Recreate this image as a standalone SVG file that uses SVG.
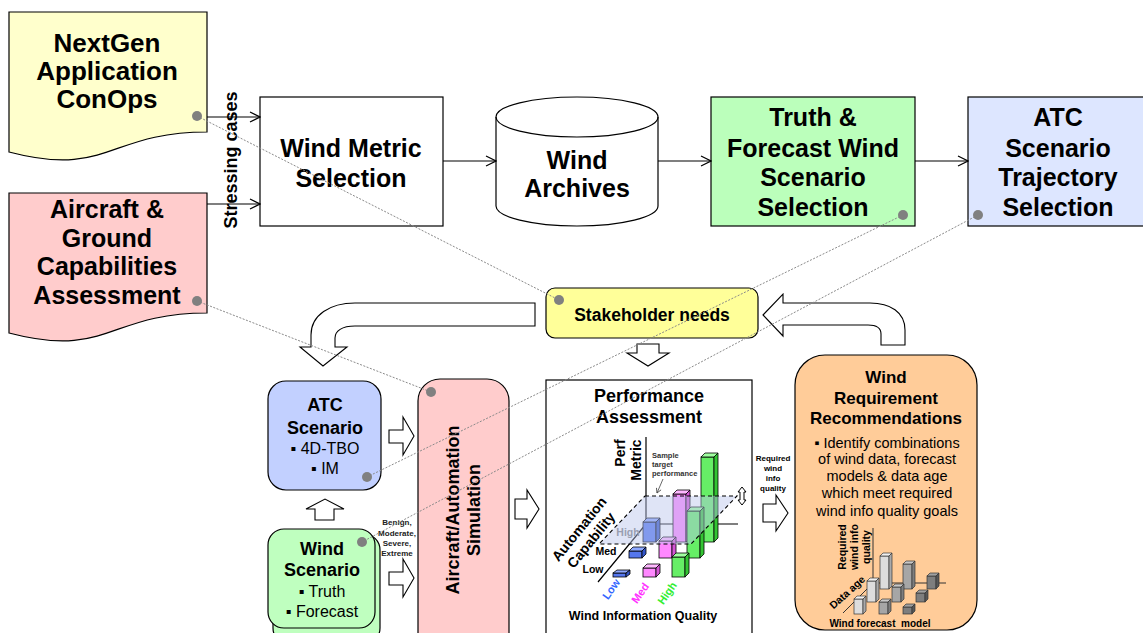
<svg xmlns="http://www.w3.org/2000/svg" width="1143" height="633" viewBox="0 0 1143 633">
<defs>
<style>
.bx{stroke:#000;stroke-width:1.2}
.ln{stroke:#000;stroke-width:1.2;fill:none}
.blk{fill:#fff;stroke:#000;stroke-width:1.1}
.dot{fill:#808080}
.dl{stroke:#8a8a8a;stroke-width:1;stroke-dasharray:2 1.5;fill:none}
text{font-family:"Liberation Sans",Arial,sans-serif;fill:#000}
.h24{font-size:25px;font-weight:bold;text-anchor:middle;dominant-baseline:central}
.h26{font-size:26px;font-weight:bold;text-anchor:middle;dominant-baseline:central}
.h18{font-size:18px;font-weight:bold;text-anchor:middle;dominant-baseline:central}
.h17{font-size:17px;font-weight:bold;text-anchor:middle;dominant-baseline:central}
.n16{font-size:16px;text-anchor:middle;dominant-baseline:central}
.n14{font-size:14.5px;text-anchor:middle;dominant-baseline:central}
.s8{font-size:8px;font-weight:bold;text-anchor:middle;dominant-baseline:central;fill:#222}
.s10{font-size:10.5px;font-weight:bold;text-anchor:middle;dominant-baseline:central}
.s14{font-size:14px;font-weight:bold;text-anchor:middle;dominant-baseline:central}
.bf{fill:#5577EE;stroke:#000;stroke-width:.8}
.bt{fill:#8EA8FF;stroke:#000;stroke-width:.8}
.bs{fill:#3355C8;stroke:#000;stroke-width:.8}
.pf{fill:#FF88FF;stroke:#000;stroke-width:.8}
.pt{fill:#FFB8FF;stroke:#000;stroke-width:.8}
.ps{fill:#D455D4;stroke:#000;stroke-width:.8}
.gf{fill:#66EE66;stroke:#000;stroke-width:.8}
.gt{fill:#A0FFA0;stroke:#000;stroke-width:.8}
.gs{fill:#33C433;stroke:#000;stroke-width:.8}
.lf{fill:#DDDDDD;stroke:#333;stroke-width:.7}
.lt{fill:#F0F0F0;stroke:#333;stroke-width:.7}
.ls{fill:#AAAAAA;stroke:#333;stroke-width:.7}
.mf{fill:#A6A6A6;stroke:#333;stroke-width:.7}
.mt{fill:#C8C8C8;stroke:#333;stroke-width:.7}
.ms{fill:#7E7E7E;stroke:#333;stroke-width:.7}
.kf{fill:#7E7E7E;stroke:#333;stroke-width:.7}
.kt{fill:#A0A0A0;stroke:#333;stroke-width:.7}
.ks{fill:#575757;stroke:#333;stroke-width:.7}
</style>
<marker id="vhead" markerWidth="12" markerHeight="12" refX="11" refY="6" orient="auto" markerUnits="userSpaceOnUse">
<path d="M1,1 L11,6 L1,11" fill="none" stroke="#000" stroke-width="1.2"/>
</marker>
<marker id="tiny" markerWidth="6" markerHeight="6" refX="5" refY="3" orient="auto" markerUnits="userSpaceOnUse">
<path d="M0.5,0.5 L5,3 L0.5,5.5" fill="none" stroke="#444" stroke-width="0.8"/>
</marker>
</defs>

<rect width="1143" height="633" fill="#fff"/>

<!-- input documents -->
<g id="nextgen">
<path class="bx" fill="#FFFFCC" d="M9,12 H207 V132 C108,132 108,178 9,152 Z"/>
<text class="h26" x="107" y="43">NextGen</text>
<text class="h26" x="107" y="71">Application</text>
<text class="h26" x="107" y="99">ConOps</text>
</g>
<g id="capabilities">
<path class="bx" fill="#FFCCCC" d="M9,193 H207 V313 C108,313 108,359 9,333 Z"/>
<text class="h24" x="107" y="209">Aircraft &amp;</text>
<text class="h24" x="107" y="238">Ground</text>
<text class="h24" x="107" y="266">Capabilities</text>
<text class="h24" x="107" y="295">Assessment</text>
</g>
<g id="stressing-label">
<text x="231" y="160" transform="rotate(-90 231 160)" style="font-size:18px;font-weight:bold;text-anchor:middle;dominant-baseline:central">Stressing cases</text>
</g>

<!-- top process chain -->
<g id="wind-metric">
<rect class="bx" fill="#fff" x="260" y="97" width="183" height="129"/>
<text class="h24" x="351" y="148">Wind Metric</text>
<text class="h24" x="351" y="178">Selection</text>
</g>
<g id="wind-archives">
<path class="bx" fill="#fff" d="M496,117 A81,20 0 0 1 658,117 V206 A81,20 0 0 1 496,206 Z"/>
<path class="ln" d="M496,117 A81,20 0 0 0 658,117"/>
<text class="h24" x="577" y="160">Wind</text>
<text class="h24" x="577" y="188">Archives</text>
</g>
<g id="truth-forecast">
<rect class="bx" fill="#BBFFBB" x="711" y="97" width="204" height="129"/>
<text class="h24" x="813" y="117">Truth &amp;</text>
<text class="h24" x="813" y="148">Forecast Wind</text>
<text class="h24" x="813" y="177">Scenario</text>
<text class="h24" x="813" y="207">Selection</text>
</g>
<g id="atc-trajectory">
<rect class="bx" fill="#DDE6FF" x="968" y="97" width="180" height="129"/>
<text class="h24" x="1058" y="117">ATC</text>
<text class="h24" x="1058" y="148">Scenario</text>
<text class="h24" x="1058" y="177">Trajectory</text>
<text class="h24" x="1058" y="207">Selection</text>
</g>

<g id="stakeholder">
<rect class="bx" fill="#FFFF99" x="546" y="288" width="212" height="50" rx="9"/>
<text x="652" y="315" style="font-size:17.5px;font-weight:bold;text-anchor:middle;dominant-baseline:central">Stakeholder needs</text>
</g>

<!-- lower loop -->
<g id="atc-scenario">
<rect class="bx" fill="#C2D0FF" x="268" y="381" width="113" height="109" rx="18"/>
<text class="h18" x="325" y="405">ATC</text>
<text class="h18" x="325" y="428">Scenario</text>
<text class="n16" x="325" y="448">▪ 4D-TBO</text>
<text class="n16" x="325" y="468">▪ IM</text>
</g>
<g id="wind-scenario">
<rect class="bx" fill="#BFFFBF" x="273" y="534" width="107" height="110" rx="16"/>
<rect class="bx" fill="#BFFFBF" x="268" y="529" width="107" height="99" rx="16"/>
<text class="h18" x="322" y="549">Wind</text>
<text class="h18" x="322" y="570">Scenario</text>
<text class="n16" x="322" y="591">▪ Truth</text>
<text class="n16" x="322" y="611">▪ Forecast</text>
</g>
<g id="wind-severity">
<text class="s8" x="397" y="522">Benign,</text>
<text class="s8" x="397" y="533">Moderate,</text>
<text class="s8" x="397" y="543">Severe,</text>
<text class="s8" x="397" y="553">Extreme</text>
</g>
<g id="simulation">
<rect class="bx" fill="#FFCCCC" x="418" y="379" width="91" height="280" rx="22"/>
<text class="h18" x="453" y="510" transform="rotate(-90 453 510)">Aircraft/Automation</text>
<text class="h18" x="474" y="510" transform="rotate(-90 474 510)">Simulation</text>
</g>

<g id="performance">
<rect class="bx" fill="#fff" x="546" y="380" width="206" height="270"/>
<text class="h18" x="649" y="396">Performance</text>
<text class="h18" x="649" y="417">Assessment</text>
<!-- axes -->
<path class="ln" d="M646,437 V524 H738 M646,524 L598,582" stroke-width="1"/>
<text class="s14" x="620" y="453" transform="rotate(-90 620 453)">Perf</text>
<text class="s14" x="636" y="460" transform="rotate(-90 636 460)">Metric</text>
<text class="s14" x="579" y="529" transform="rotate(-51 579 529)">Automation</text>
<text class="s14" x="591" y="540" transform="rotate(-51 591 540)">Capability</text>
<text class="s10" x="628" y="532" style="fill:#808080">High</text>
<text class="s10" x="606" y="551">Med</text>
<text class="s10" x="593" y="569">Low</text>
<g style="font-size:7.5px;font-weight:bold">
<text x="652" y="458" style="fill:#333">Sample</text>
<text x="652" y="467" style="fill:#333">target</text>
<text x="652" y="476" style="fill:#333">performance</text>
</g>
<path d="M663,479 L657,493" stroke="#444" stroke-width="0.8" fill="none" marker-end="url(#tiny)"/>
<!-- back row -->
<rect class="bf" x="643" y="522" width="13" height="20"/><polygon class="bt" points="643,522 647,518 660,518 656,522"/><polygon class="bs" points="656,522 660,518 660,538 656,542"/>
<rect class="pf" x="673" y="494" width="13" height="48"/><polygon class="pt" points="673,494 677,490 690,490 686,494"/><polygon class="ps" points="686,494 690,490 690,538 686,542"/>
<rect class="gf" x="701" y="457" width="13" height="85"/><polygon class="gt" points="701,457 705,453 718,453 714,457"/><polygon class="gs" points="714,457 718,453 718,538 714,542"/>
<!-- middle row -->
<rect class="bf" x="629" y="551" width="13" height="7"/><polygon class="bt" points="629,551 633,547 646,547 642,551"/><polygon class="bs" points="642,551 646,547 646,554 642,558"/>
<rect class="pf" x="659" y="541" width="13" height="17"/><polygon class="pt" points="659,541 663,537 676,537 672,541"/><polygon class="ps" points="672,541 676,537 676,554 672,558"/>
<rect class="gf" x="687" y="511" width="13" height="47"/><polygon class="gt" points="687,511 691,507 704,507 700,511"/><polygon class="gs" points="700,511 704,507 704,554 700,558"/>
<!-- target plane -->
<polygon points="645,496 737,496 691,544 599,544" fill="#B8C4EC" fill-opacity="0.45" stroke="#000" stroke-width="1.1" stroke-dasharray="4 3"/>
<!-- front row -->
<rect class="bf" x="613" y="573" width="13" height="4"/><polygon class="bt" points="613,573 617,570 630,570 626,573"/><polygon class="bs" points="626,573 630,570 630,574 626,577"/>
<rect class="pf" x="643" y="568" width="13" height="9"/><polygon class="pt" points="643,568 647,564 660,564 656,568"/><polygon class="ps" points="656,568 660,564 660,573 656,577"/>
<rect class="gf" x="672" y="557" width="13" height="20"/><polygon class="gt" points="672,557 676,553 689,553 685,557"/><polygon class="gs" points="685,557 689,553 689,573 685,577"/>
<path d="M742,487 L746,492 L744,492 L744,500 L746,500 L742,505 L738,500 L740,500 L740,492 L738,492 Z" fill="#fff" stroke="#000" stroke-width="1"/>
<text x="611" y="589" transform="rotate(-55 611 589)" style="font-size:11px;font-weight:bold;text-anchor:middle;dominant-baseline:central;fill:#3366FF">Low</text>
<text x="640" y="593" transform="rotate(-55 640 593)" style="font-size:11px;font-weight:bold;text-anchor:middle;dominant-baseline:central;fill:#FF33FF">Med</text>
<text x="667" y="593" transform="rotate(-55 667 593)" style="font-size:11px;font-weight:bold;text-anchor:middle;dominant-baseline:central;fill:#33EE33">High</text>
<text x="643" y="616" style="font-size:12.5px;font-weight:bold;text-anchor:middle;dominant-baseline:central">Wind Information Quality</text>
</g>

<g id="quality-label">
<text class="s8" x="773" y="458" style="fill:#000">Required</text>
<text class="s8" x="773" y="468" style="fill:#000">wind</text>
<text class="s8" x="773" y="478" style="fill:#000">info</text>
<text class="s8" x="773" y="488" style="fill:#000">quality</text>
</g>

<g id="recommendations">
<rect class="bx" fill="#FFCC99" x="795" y="355" width="182" height="275" rx="30"/>
<text class="h17" x="886" y="377">Wind</text>
<text class="h17" x="886" y="398">Requirement</text>
<text class="h17" x="886" y="418">Recommendations</text>
<text class="n14" x="887" y="443">▪ Identify combinations</text>
<text class="n14" x="887" y="459">of wind data, forecast</text>
<text class="n14" x="887" y="476">models &amp; data age</text>
<text class="n14" x="887" y="493">which meet required</text>
<text class="n14" x="887" y="511">wind info quality goals</text>
<!-- mini chart -->
<path d="M873,528 V583 H946 M873,583 L843,613" stroke="#333" stroke-width="1" fill="none"/>
<text class="s10" x="842" y="547" transform="rotate(-90 842 547)">Required</text>
<text class="s10" x="854" y="547" transform="rotate(-90 854 547)">wind info</text>
<text class="s10" x="866" y="547" transform="rotate(-90 866 547)">quality</text>
<text class="s10" x="847" y="592" transform="rotate(-42 847 592)">Data age</text>
<rect class="lf" x="880" y="556" width="9" height="33"/><polygon class="lt" points="880,556 883,553 892,553 889,556"/><polygon class="ls" points="889,556 892,553 892,586 889,589"/>
<rect class="mf" x="903" y="564" width="9" height="25"/><polygon class="mt" points="903,564 906,561 915,561 912,564"/><polygon class="ms" points="912,564 915,561 915,586 912,589"/>
<rect class="kf" x="927" y="576" width="9" height="13"/><polygon class="kt" points="927,576 930,573 939,573 936,576"/><polygon class="ks" points="936,576 939,573 939,586 936,589"/>
<rect class="lf" x="867" y="581" width="9" height="21"/><polygon class="lt" points="867,581 870,578 879,578 876,581"/><polygon class="ls" points="876,581 879,578 879,599 876,602"/>
<rect class="mf" x="892" y="587" width="9" height="15"/><polygon class="mt" points="892,587 895,584 904,584 901,587"/><polygon class="ms" points="901,587 904,584 904,599 901,602"/>
<rect class="kf" x="916" y="593" width="9" height="9"/><polygon class="kt" points="916,593 919,590 928,590 925,593"/><polygon class="ks" points="925,593 928,590 928,599 925,602"/>
<rect class="lf" x="854" y="599" width="9" height="15"/><polygon class="lt" points="854,599 857,596 866,596 863,599"/><polygon class="ls" points="863,599 866,596 866,611 863,614"/>
<rect class="mf" x="879" y="602" width="9" height="12"/><polygon class="mt" points="879,602 882,599 891,599 888,602"/><polygon class="ms" points="888,602 891,599 891,611 888,614"/>
<rect class="kf" x="903" y="607" width="9" height="7"/><polygon class="kt" points="903,607 906,604 915,604 912,607"/><polygon class="ks" points="912,607 915,604 915,611 912,614"/>
<text x="880" y="623" xml:space="preserve" style="font-size:10px;font-weight:bold;text-anchor:middle;dominant-baseline:central">Wind forecast  model</text>
</g>

<g id="connectors">
<line class="ln" x1="207" y1="117" x2="260" y2="117" marker-end="url(#vhead)"/>
<line class="ln" x1="207" y1="204" x2="260" y2="204" marker-end="url(#vhead)"/>
<line class="ln" x1="443" y1="161" x2="496" y2="161" marker-end="url(#vhead)"/>
<line class="ln" x1="658" y1="161" x2="711" y2="161" marker-end="url(#vhead)"/>
<line class="ln" x1="915" y1="161" x2="968" y2="161" marker-end="url(#vhead)"/>
<!-- block arrows -->
<path class="blk" d="M535,303 L355,303 C330,303 311,315 311,335 L311,347 L300,347 L323,366 L347,347 L335,347 L335,338 C335,331 342,326 355,326 L535,326 Z"/>
<path class="blk" d="M763,315 L783,294 L783,303 L870,303 C890,303 905,312 905,330 L905,345 L881,345 L881,334 C881,328 876,325 868,325 L783,325 L783,336 Z"/>
<path class="blk" d="M637,344 H659 V353 H669 L648,366 L627,353 H637 Z"/>
<path class="blk" d="M389,430 H403 V417 L414,436 L403,455 V443 H389 Z"/>
<path class="blk" d="M389,572 H403 V559 L414,578 L403,597 V585 H389 Z"/>
<path class="blk" d="M315,520 V509 H306 L325,499 L344,509 H334 V520 Z"/>
<path class="blk" d="M515,499 H527 V490 L539,509 L527,528 V519 H515 Z"/>
<path class="blk" d="M763,504 H776 V495 L788,513 L776,531 V522 H763 Z"/>
<!-- dotted traceability links -->
<line class="dl" x1="197" y1="116" x2="559" y2="300"/>
<line class="dl" x1="197" y1="301" x2="431" y2="392"/>
<line class="dl" x1="903" y1="215" x2="367" y2="477"/>
<line class="dl" x1="978" y1="215" x2="362" y2="542"/>
<circle class="dot" cx="197" cy="116" r="5"/>
<circle class="dot" cx="197" cy="301" r="5"/>
<circle class="dot" cx="903" cy="215" r="5"/>
<circle class="dot" cx="978" cy="215" r="5"/>
<circle class="dot" cx="559" cy="300" r="5"/>
<circle class="dot" cx="431" cy="392" r="5"/>
<circle class="dot" cx="367" cy="477" r="5"/>
<circle class="dot" cx="362" cy="542" r="5"/>
</g>
</svg>
